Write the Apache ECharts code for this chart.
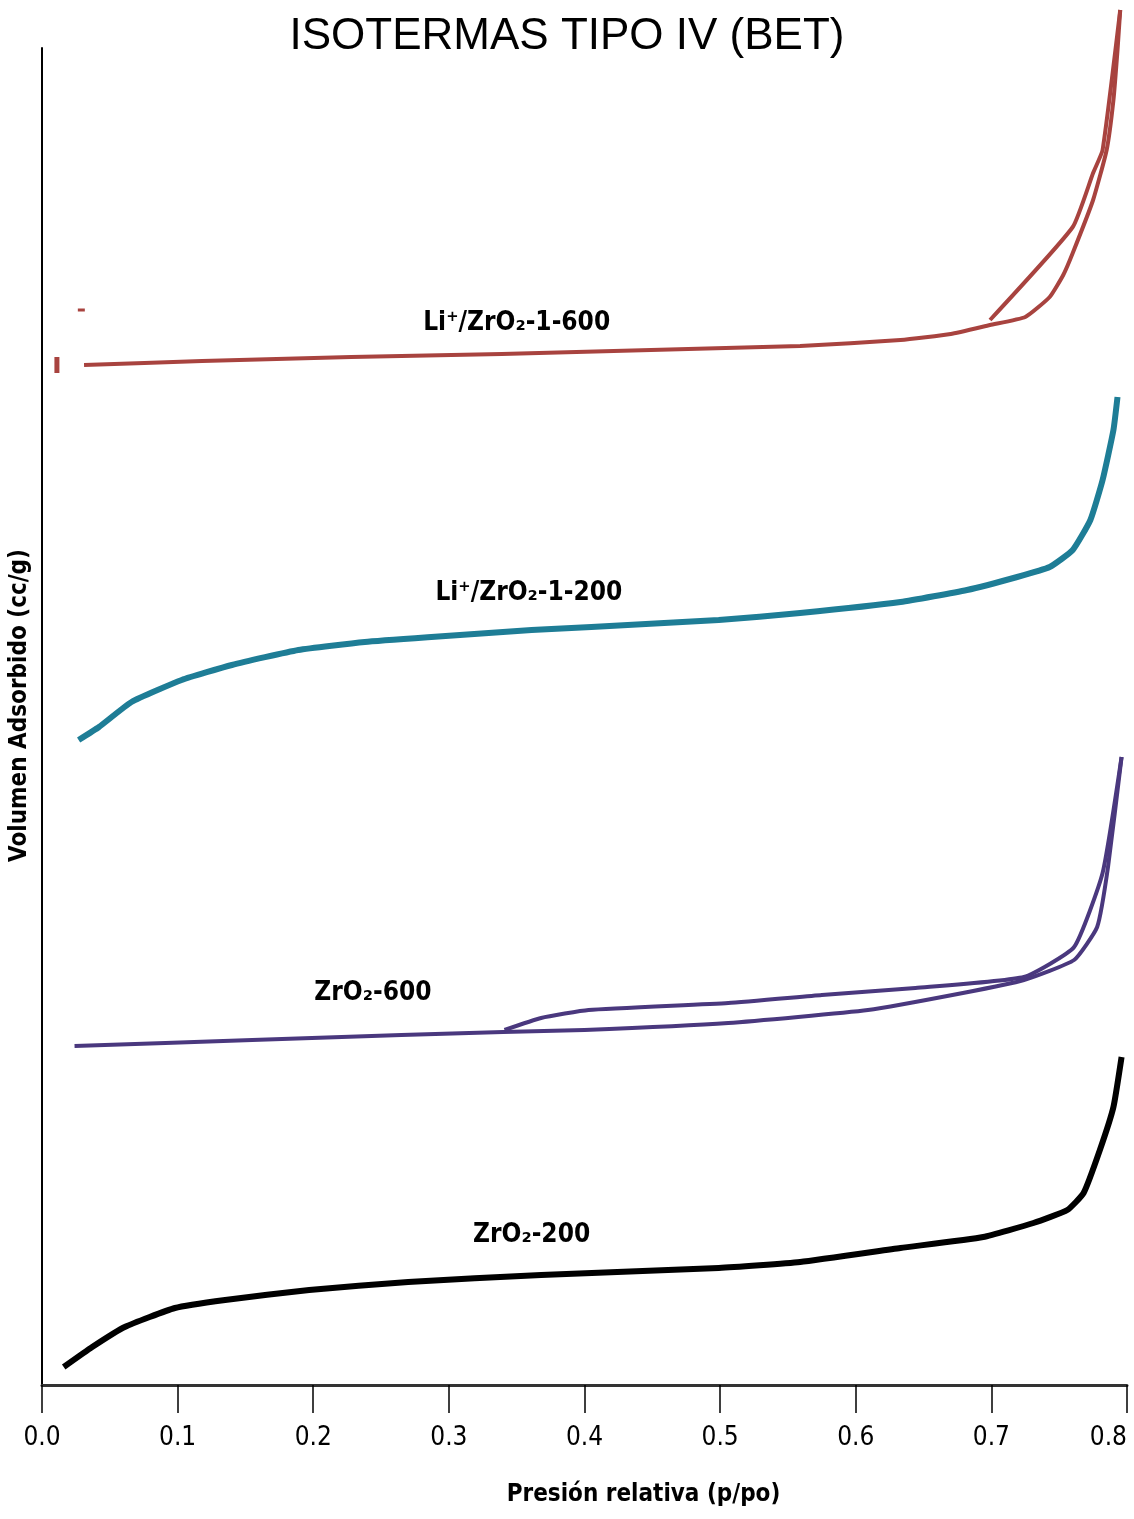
<!DOCTYPE html>
<html>
<head>
<meta charset="utf-8">
<script src="https://cdn.jsdelivr.net/npm/echarts@6/dist/echarts.min.js"></script>
<style>html,body{margin:0;padding:0;background:#fff;}#c{width:1134px;height:1519px;}</style>
</head>
<body>
<div id="c"></div>
<script>
// x ticks
var xTicks = [0.0, 0.1, 0.2, 0.3, 0.4, 0.5, 0.6, 0.7, 0.8];

// ZrO2-200 (p/po, volumen)
var zr200P = [0.016,0.037,0.061,0.098,0.135,0.197,0.270,0.368,0.499,0.559,0.633,0.694,0.731,0.756,0.768,0.780,0.790,0.796];
var zr200V = [18,38,58,77,85,95,103,110,117,123,137,148,162,175,192,235,278,328];

// Li+/ZrO2-1-200
var li200P = [0.027,0.042,0.066,0.103,0.140,0.189,0.238,0.287,0.361,0.405,0.499,0.559,0.633,0.682,0.719,0.743,0.760,0.773,0.782,0.790,0.793];
var li200V = [645,658,683,705,720,735,743,748,755,758,765,772,783,795,808,818,835,865,905,955,988];

// ZrO2-600 adsorption and desorption branches
var zr600AdsP = [0.024,0.155,0.265,0.340,0.400,0.506,0.609,0.679,0.724,0.761,0.778,0.786,0.796];
var zr600AdsV = [339,345,350,353,355,362,375,392,405,425,458,518,628];
var zr600DesP = [0.796,0.782,0.761,0.724,0.644,0.575,0.506,0.403,0.368,0.341];
var zr600DesV = [628,512,438,408,397,390,382,375,367,355];

// Li+/ZrO2-1-600 adsorption and desorption branches
var li600AdsP = [0.031,0.118,0.228,0.339,0.449,0.559,0.633,0.670,0.699,0.725,0.743,0.753,0.760,0.775,0.785,0.790,0.793,0.795];
var li600AdsV = [1020,1024,1028,1031,1035,1039,1045,1051,1060,1068,1088,1110,1132,1185,1235,1285,1335,1375];
var li600DesP = [0.795,0.782,0.775,0.760,0.699];
var li600DesV = [1375,1235,1212,1158,1065];
// stray marks
var li600StrayP = [0.011,0.029];
var li600StrayV = [1020,1075];

// curve labels
var labelText = ['Li⁺/ZrO₂-1-600','Li⁺/ZrO₂-1-200','ZrO₂-600','ZrO₂-200'];
var labelP = [0.350,0.359,0.244,0.361];
var labelV = [1062,792,392,150];

function pairs(a,b){return a.map(function(v,i){return [v,b[i]];});}

var narrow = "'Liberation Sans Narrow','DejaVu Sans Condensed','Roboto Condensed',sans-serif";
var RED='#a8433f', TEAL='#1e7d96', PURPLE='#4a387e', BLACK='#000000';

function lineSeries(name,data,color,w){
  return {name:name,type:'line',data:data,showSymbol:false,symbol:'none',clip:false,
    lineStyle:{color:color,width:w,cap:'butt',join:'round'},smooth:0.15,silent:true,z:3};
}

var chart = echarts.init(document.getElementById('c'),null,{renderer:'canvas'});
chart.setOption({
  animation:false,
  backgroundColor:'#fff',
  title:{text:'ISOTERMAS TIPO IV (BET)',left:'center',top:10,
    textStyle:{fontFamily:"'Liberation Sans',Arial,sans-serif",fontSize:44,fontWeight:'normal',color:'#000'}},
  grid:{left:40,right:7,top:48,bottom:134},
  xAxis:{type:'value',min:0,max:0.8,interval:0.1,
    axisLine:{show:true,lineStyle:{color:'#333',width:3}},
    axisTick:{show:true,length:28,lineStyle:{color:'#000',width:1.5}},
    splitLine:{show:false},
    axisLabel:{margin:40,fontFamily:narrow,fontSize:26,color:'#000',alignMaxLabel:'right',
      formatter:function(v){return v.toFixed(1);}},
    name:'Presión relativa (p/po)',nameLocation:'middle',nameGap:98,
    nameTextStyle:{fontFamily:narrow,fontSize:24,fontWeight:'bold',color:'#000',padding:[0,0,0,118]}},
  yAxis:{type:'value',min:0,max:1337,
    axisLine:{show:true,lineStyle:{color:'#000',width:2}},
    axisTick:{show:false},axisLabel:{show:false},splitLine:{show:false},
    name:'Volumen Adsorbido (cc/g)',nameLocation:'middle',nameGap:10,
    nameTextStyle:{fontFamily:narrow,fontSize:24,fontWeight:'bold',color:'#000',padding:[0,0,0,22]}},
  series:[
    lineSeries('ZrO2-200',pairs(zr200P,zr200V),BLACK,6),
    lineSeries('Li/ZrO2-1-200',pairs(li200P,li200V),TEAL,6),
    lineSeries('ZrO2-600 ads',pairs(zr600AdsP,zr600AdsV),PURPLE,4),
    lineSeries('ZrO2-600 des',pairs(zr600DesP,zr600DesV),PURPLE,4),
    lineSeries('Li/ZrO2-1-600 ads',pairs(li600AdsP,li600AdsV),RED,4),
    lineSeries('Li/ZrO2-1-600 des',pairs(li600DesP,li600DesV),RED,4),
    {type:'scatter',data:[[li600StrayP[0],li600StrayV[0],[5,16]],[li600StrayP[1],li600StrayV[1],[7,3]]],
      symbol:'rect',symbolSize:function(d){return d[2];},itemStyle:{color:RED,opacity:1},silent:true,clip:false},
    {type:'scatter',symbolSize:0,silent:true,clip:false,itemStyle:{opacity:1},
      data:labelText.map(function(t,i){return {value:[labelP[i],labelV[i]],name:t};}),
      label:{show:true,position:'inside',opacity:1,formatter:function(p){return p.name;},
        fontFamily:narrow,fontSize:26,fontWeight:'bold',color:'#000'}}
  ]
});
</script>
</body>
</html>
